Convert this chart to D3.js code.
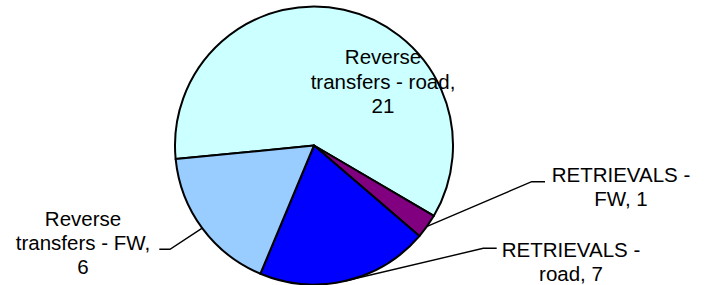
<!DOCTYPE html>
<html>
<head>
<meta charset="utf-8">
<script src="https://cdn.jsdelivr.net/npm/d3@7"></script>
<style>
  body { margin: 0; background: #fff; }
  text { font-family: "Liberation Sans", Arial, sans-serif; font-size: 20.5px; fill: #000; }
</style>
</head>
<body>
<svg id="chart" width="709" height="285"></svg>
<script>
const categories = ["Reverse transfers - road", "RETRIEVALS - FW", "RETRIEVALS - road", "Reverse transfers - FW"]
const values = [21, 1, 7, 6]
const labelLines = [
    ["Reverse", "transfers - road,", "21"],
    ["RETRIEVALS -", "FW, 1"],
    ["RETRIEVALS -", "road, 7"],
    ["Reverse", "transfers - FW,", "6"]
]
const colors = ["#CCFFFF", "#800080", "#0000FF", "#99CCFF"]

const svg = d3.select('#chart')
const cx = 314, cy = 145.5, r = 139
const start = -95.6 * Math.PI / 180

// label placement: text centre x, first baseline y, and elbow of leader line (null = inside)
const layout = [
    { x: 383, y: 64.3, elbow: null },
    { x: 621, y: 181.7, elbow: [531.7, 181.7, 545] },
    { x: 571, y: 256.7, elbow: [483.3, 248.3, 496.7] },
    { x: 83, y: 225.7, elbow: [170, 249.3, 159.3] }
]

const data = categories.map((c, i) => ({ name: c, value: values[i], i }))

const pie = d3.pie().sort(null).value(d => d.value)
    .startAngle(start).endAngle(start + 2 * Math.PI)
const arcs = pie(data)

const arc = d3.arc().innerRadius(0).outerRadius(r)
const edge = d3.arc().innerRadius(r).outerRadius(r)

const g = svg.append('g').attr('transform', `translate(${cx},${cy})`)

g.selectAll('path.slice')
    .data(arcs)
    .enter()
    .append('path')
    .classed('slice', true)
    .attr('d', arc)
    .attr('fill', d => colors[d.data.i])
    .attr('stroke', '#000')
    .attr('stroke-width', 2)
    .attr('stroke-linejoin', 'round')

// leader lines
arcs.forEach(d => {
    let l = layout[d.data.i]
    if (!l.elbow) return
    let [ex, ey] = edge.centroid(d)
    let [bx, by, hx] = l.elbow
    svg.append('polyline')
        .attr('points', `${cx + ex},${cy + ey} ${bx},${by} ${hx},${by}`)
        .attr('fill', 'none')
        .attr('stroke', '#000')
        .attr('stroke-width', 1.4)
})

// labels
arcs.forEach(d => {
    let l = layout[d.data.i]
    let t = svg.append('text')
        .attr('text-anchor', 'middle')
    labelLines[d.data.i].forEach((line, k) => {
        t.append('tspan')
            .attr('x', l.x)
            .attr('y', l.y + k * 24.2)
            .text(line)
    })
})
</script>
</body>
</html>
